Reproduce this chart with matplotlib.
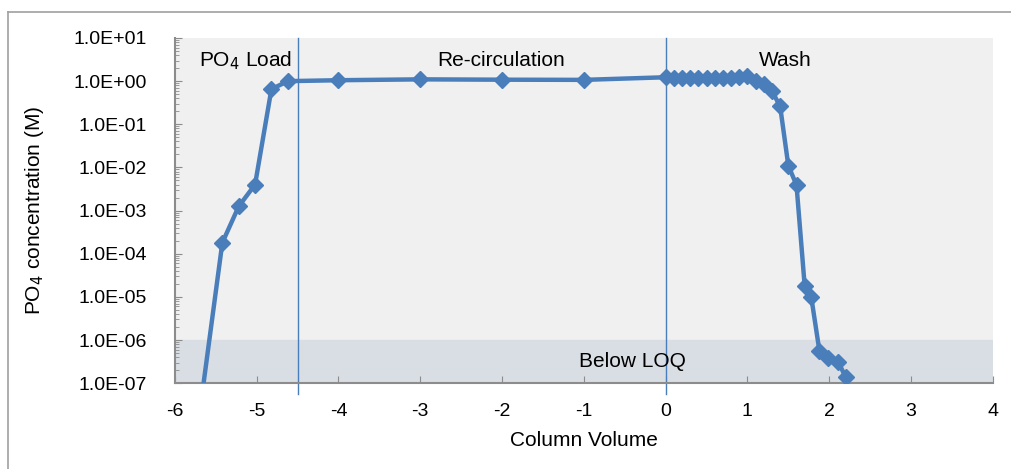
import numpy as np
import matplotlib.pyplot as plt
from matplotlib.ticker import FuncFormatter, LogLocator, NullFormatter

plt.rcParams['font.family'] = ['Liberation Sans', 'DejaVu Sans']
plt.rcParams['axes.unicode_minus'] = False

# Column volume and PO4 concentration (M)
cv = [-5.72, -5.42, -5.22, -5.02, -4.82, -4.62,
      -4.0, -3.0, -2.0, -1.0,
      0.0, 0.1, 0.2, 0.3, 0.4, 0.5, 0.6, 0.7, 0.8, 0.9, 1.0,
      1.1, 1.2, 1.3, 1.4, 1.5, 1.6, 1.7, 1.78, 1.88, 1.99, 2.11, 2.2]
conc = [1e-8, 1.8e-4, 1.25e-3, 4.0e-3, 0.65, 1.0,
        1.05, 1.1, 1.08, 1.07,
        1.23, 1.18, 1.18, 1.17, 1.17, 1.17, 1.17, 1.18, 1.2, 1.25, 1.35,
        1.0, 0.84, 0.59, 0.26, 1.1e-2, 3.9e-3, 1.8e-5, 1.0e-5, 5.6e-7, 3.9e-7, 3.1e-7, 1.4e-7]

phase_bounds = [-4.5, 0.0]
phase_labels = ['PO$_4$ Load', 'Re-circulation', 'Wash']
phase_label_x = [-5.14, -2.01, 1.46]
loq = 1e-6

blue = '#4A7EBB'
grey = '#8c8c8c'

fig = plt.figure(figsize=(10.11, 4.69), dpi=100)
ax = fig.add_axes([0.173, 0.183, 0.809, 0.736])

# outer frame like the original chart border
fig.add_artist(plt.Line2D([0.008, 0.008], [0.0, 0.974], color='#a0a0a0', lw=1.2))
fig.add_artist(plt.Line2D([0.008, 1.0], [0.974, 0.974], color='#a0a0a0', lw=1.2))

ax.set_facecolor('#f0f0f0')
ax.set_yscale('log')
ax.set_xlim(-6, 4)
ax.set_ylim(1e-7, 10)

ax.axhspan(1e-7, loq, color='#d9dee5', zorder=0)
ax.text(-0.41, 3.1e-7, 'Below LOQ', ha='center', va='center', fontsize=15)

for xb in phase_bounds:
    ax.axvline(xb, ymin=-0.032, ymax=1, color=blue, lw=1.0, clip_on=False, zorder=2)

for lx, lab in zip(phase_label_x, phase_labels):
    ax.text(lx, 3.0, lab, ha='center', va='center', fontsize=15)

ax.plot(cv, conc, color=blue, lw=3.2, marker='D', markersize=8.5, zorder=3)

ax.set_xticks(np.arange(-6, 5, 1))
ax.yaxis.set_major_locator(LogLocator(base=10, numticks=20))
ax.yaxis.set_minor_locator(LogLocator(base=10, subs=np.arange(2, 10), numticks=20))
ax.yaxis.set_minor_formatter(NullFormatter())
ax.yaxis.set_major_formatter(FuncFormatter(lambda v, p: '%.1E' % v))

ax.tick_params(axis='both', which='both', direction='in', color=grey, labelsize=14)
ax.tick_params(axis='x', length=5, pad=14)
ax.tick_params(axis='y', which='major', length=5, pad=20)
ax.tick_params(axis='y', which='minor', length=3)

for s in ['top', 'right']:
    ax.spines[s].set_visible(False)
for s in ['left', 'bottom']:
    ax.spines[s].set_color(grey)
    ax.spines[s].set_linewidth(1.5)

ax.set_xlabel('Column Volume', fontsize=15, labelpad=8)
ax.set_ylabel('PO$_4$ concentration (M)', fontsize=15, labelpad=20)

plt.savefig('out.png', dpi=100)
